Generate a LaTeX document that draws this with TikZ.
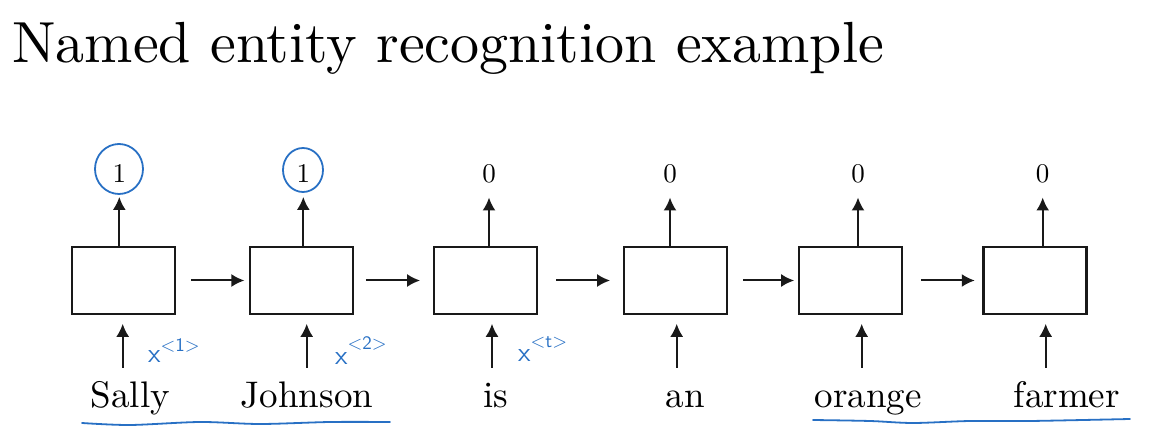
\documentclass[tikz,border=0pt]{standalone}
\usepackage{fontspec}
\setmainfont{lmroman10-regular.otf}
\setsansfont{lmsans10-regular.otf}
\usetikzlibrary{arrows.meta}
\definecolor{pen}{RGB}{40,112,196}
\begin{document}
\begin{tikzpicture}[x=1pt,y=-1pt,
  box/.style={draw=black!90,line width=2.2pt,minimum width=103pt,minimum height=67pt,inner sep=0pt},
  arr/.style={draw=black!90,line width=2pt,-{Latex[length=13pt,width=13pt]}},
  word/.style={anchor=base,inner sep=0pt,font=\fontsize{37}{40}\selectfont},
  lab/.style={anchor=base,inner sep=0pt,font=\fontsize{27}{30}\selectfont},
  ink/.style={draw=pen,line width=1.8pt,line cap=round,line join=round},
  note/.style={anchor=base west,inner sep=0pt,text=pen,font=\fontsize{27}{30}\sffamily}]
\useasboundingbox (0,0) rectangle (1163,443);

\node[anchor=base west,inner sep=0pt,font=\fontsize{58}{62}\selectfont] (title) at (12,63) {Named entity recognition example};

% boxes
\node[box] (b1) at (123.5,280.5) {};
\node[box] (b2) at (301.3,280.5) {};
\node[box] (b3) at (485.7,280.5) {};
\node[box] (b4) at (675.7,280.5) {};
\node[box] (b5) at (850.8,280.5) {};
\node[box] (b6) at (1035,280.5) {};

% outputs
\node[lab] (o1) at (119.3,183) {1};
\node[lab] (o2) at (303.3,183) {1};
\node[lab] (o3) at (489,183) {0};
\node[lab] (o4) at (670,183) {0};
\node[lab] (o5) at (858,183) {0};
\node[lab] (o6) at (1042.7,183) {0};
\foreach \i in {1,...,6}
  \draw[arr,shorten >=13.7pt] (b\i.north -| o\i) -- (o\i.south);

% recurrent arrows
\draw[arr,shorten <=15pt,shorten >=4.3pt] (b1.east) -- (b2.west);
\draw[arr,shorten <=12pt,shorten >=13pt] (b2.east) -- (b3.west);
\draw[arr,shorten <=18pt,shorten >=13pt] (b3.east) -- (b4.west);
\draw[arr,shorten <=15pt,shorten >=4pt] (b4.east) -- (b5.west);
\draw[arr,shorten <=18pt,shorten >=7.6pt] (b5.east) -- (b6.west);

% words
\node[word] (w1) at (130.3,408) {Sally};
\node[word] (w2) at (307,408) {Johnson};
\node[word] (w3) at (496,408) {is};
\node[word] (w4) at (685.5,408) {an};
\node[word] (w5) at (868.3,408) {orange};
\node[word] (w6) at (1066.8,408) {farmer};

% input arrows
\coordinate (i1) at (122.7,368);
\coordinate (i2) at (306.7,368);
\coordinate (i3) at (492,368);
\coordinate (i4) at (676.7,368);
\coordinate (i5) at (861.7,368);
\coordinate (i6) at (1045.7,368);
\foreach \i in {1,...,6}
  \draw[arr,shorten >=8.7pt] (i\i) -- (b\i.south -| i\i);

% handwritten notes
\node[note] (n1) at (148,363) {x\raisebox{11pt}{\fontsize{19}{20}\selectfont\textless 1\textgreater}};
\node[note] (n2) at (335,365) {x\raisebox{15pt}{\fontsize{19}{20}\selectfont\textless 2\textgreater}};
\node[note] (n3) at (518,362) {x\raisebox{14pt}{\fontsize{19}{20}\selectfont\textless t\textgreater}};

% circles
\draw[ink] (119,169) ellipse [x radius=24pt, y radius=25pt];
\draw[ink] (303,170) ellipse [x radius=20pt, y radius=22pt];

% underlines
\draw[ink] plot[smooth] coordinates {(82,423) (130,425) (200,422) (260,424) (330,422) (390,422)};
\draw[ink] plot[smooth] coordinates {(813,420) (870,421) (913,423) (970,421) (1030,421) (1130,419)};
\end{tikzpicture}
\end{document}
